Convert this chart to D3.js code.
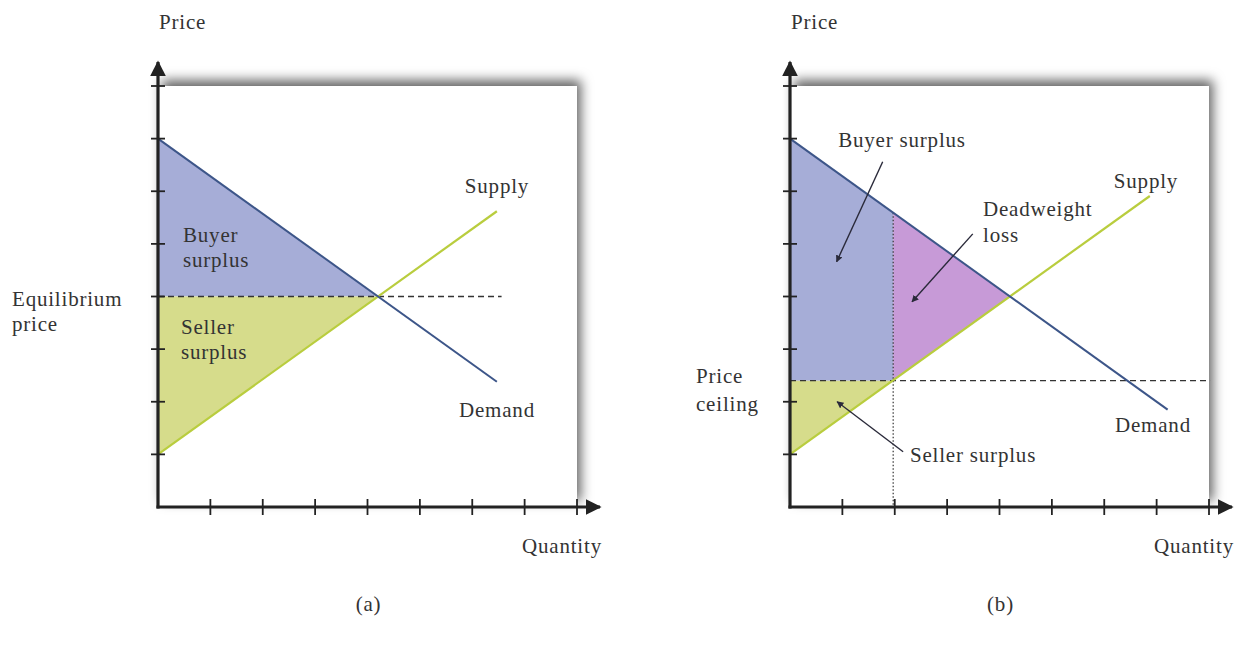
<!DOCTYPE html>
<html><head><meta charset="utf-8">
<script src="https://cdn.jsdelivr.net/npm/d3@7"></script>
<style>
body{margin:0;background:#fff;}
text{font-family:"Liberation Serif","Times New Roman",serif;fill:#333;letter-spacing:0.8px;}
</style></head>
<body><svg id="c" width="1236" height="645"></svg>
<script>
// ---- data (in economic units: quantity, price) ----
const quantityTicks = [1,2,3,4,5,6,7,8];
const priceTicks = [1,2,3,4,5,6,7,8];
const demandA = [{q:0,p:7},{q:6.47,p:2.38}];
const supplyA = [{q:0,p:1},{q:6.47,p:5.62}];
const demandB = [{q:0,p:7},{q:7.21,p:1.85}];
const supplyB = [{q:0,p:1},{q:6.87,p:5.91}];
const equilibrium = {q:4.2,p:4};
const equilibriumLineEnd = 6.56;
const ceilingPrice = 2.4;
const ceilingQty = 1.97;
const demandAtCeilingQty = 5.59;
const ceilingLineEnd = 8.02;
const buyerSurplusA = [{q:0,p:7},{q:4.2,p:4},{q:0,p:4}];
const sellerSurplusA = [{q:0,p:4},{q:4.2,p:4},{q:0,p:1}];
const buyerSurplusB = [{q:0,p:7},{q:1.97,p:5.59},{q:1.97,p:2.4},{q:0,p:2.4}];
const deadweightB = [{q:1.97,p:5.59},{q:4.2,p:4},{q:1.97,p:2.41}];
const sellerSurplusB = [{q:0,p:1},{q:1.97,p:2.4},{q:0,p:2.4}];
const arrowsB = [
  {from:{q:1.77,p:6.56},to:{q:0.89,p:4.66}},
  {from:{q:3.49,p:5.19},to:{q:2.33,p:3.90}},
  {from:{q:2.16,p:1.05},to:{q:0.90,p:2.00}}
];
const colors = {buyer:"#a6add7",seller:"#d6dc8b",dw:"#c79ad7",demand:"#3d5689",supply:"#b9cd3e",axis:"#222"};

const svg = d3.select("#c");
const defs = svg.append("defs");
defs.append("filter").attr("id","sh").attr("x","-10%").attr("y","-15%").attr("width","125%").attr("height","125%")
  .append("feDropShadow").attr("dx",4).attr("dy",-6).attr("stdDeviation",6)
  .attr("flood-color","#000").attr("flood-opacity",0.6);
defs.append("marker").attr("id","ah").attr("viewBox","0 0 10 10").attr("refX",9).attr("refY",5)
  .attr("markerWidth",5).attr("markerHeight",5).attr("orient","auto")
  .append("path").attr("d","M0,0L10,5L0,10z").attr("fill",colors.axis);
defs.append("marker").attr("id","sa").attr("viewBox","0 0 10 10").attr("refX",9).attr("refY",5)
  .attr("markerWidth",7).attr("markerHeight",7).attr("markerUnits","userSpaceOnUse")
  .attr("orient","auto")
  .append("path").attr("d","M0,0L10,5L0,10z").attr("fill","#2a2a3a");

function panel(x0, label, opts){
  const x = d3.scaleLinear().domain([0,8]).range([x0, x0+419]);
  const y = d3.scaleLinear().domain([0,8]).range([507, 86]);
  const g = svg.append("g");
  const line = d3.line().x(d=>x(d.q)).y(d=>y(d.p));
  const poly = pts => line(pts)+"Z";
  // frame
  g.append("rect").attr("x",x(0)).attr("y",y(8)).attr("width",x(8)-x(0)).attr("height",y(0)-y(8))
    .attr("fill","#fff").attr("filter","url(#sh)");
  opts.areas.forEach(a=>g.append("path").attr("d",poly(a.pts)).attr("fill",a.fill));
  opts.dashes.forEach(d=>g.append("path").attr("d",line(d.pts)).attr("fill","none")
    .attr("stroke","#333").attr("stroke-width",d.w||1.3).attr("stroke-dasharray",d.dash));
  g.append("path").attr("d",line(opts.supply)).attr("stroke",colors.supply).attr("stroke-width",2.2).attr("fill","none");
  g.append("path").attr("d",line(opts.demand)).attr("stroke",colors.demand).attr("stroke-width",2).attr("fill","none");
  // axes
  g.append("line").attr("x1",x(0)).attr("y1",y(0)+1.5).attr("x2",x(0)).attr("y2",62)
    .attr("stroke",colors.axis).attr("stroke-width",3.2).attr("marker-end","url(#ah)");
  g.append("line").attr("x1",x(0)-1.5).attr("y1",y(0)).attr("x2",x(0)+442).attr("y2",y(0))
    .attr("stroke",colors.axis).attr("stroke-width",3.2).attr("marker-end","url(#ah)");
  g.selectAll(".yt").data(priceTicks).enter().append("line")
    .attr("x1",x(0)-7).attr("x2",x(0)+7).attr("y1",d=>y(d)).attr("y2",d=>y(d))
    .attr("stroke",colors.axis).attr("stroke-width",1.8);
  g.selectAll(".xt").data(quantityTicks).enter().append("line")
    .attr("y1",y(0)-8).attr("y2",y(0)+8).attr("x1",d=>x(d)).attr("x2",d=>x(d))
    .attr("stroke",colors.axis).attr("stroke-width",1.8);
  (opts.arrows||[]).forEach(a=>g.append("line").attr("x1",x(a.from.q)).attr("y1",y(a.from.p))
    .attr("x2",x(a.to.q)).attr("y2",y(a.to.p)).attr("stroke","#2a2a3a").attr("stroke-width",1.4)
    .attr("marker-end","url(#sa)"));
  // texts
  opts.texts.forEach(t=>{
    g.append("text").attr("x",t.x).attr("y",t.y).attr("font-size",21)
      .attr("text-anchor",t.a||"start").text(t.s);
  });
  g.append("text").attr("x",x(0)+1).attr("y",29).attr("font-size",21).text("Price");
  g.append("text").attr("x",x(8)-15).attr("y",553).attr("font-size",21).attr("text-anchor","middle").text("Quantity");
  g.append("text").attr("x",x(4)+1).attr("y",611).attr("font-size",21).attr("text-anchor","middle").text(label);
}

panel(158, "(a)", {
  areas:[{pts:buyerSurplusA,fill:colors.buyer},{pts:sellerSurplusA,fill:colors.seller}],
  dashes:[{pts:[{q:0,p:equilibrium.p},{q:equilibriumLineEnd,p:equilibrium.p}],dash:"6,4"}],
  supply:supplyA, demand:demandA,
  texts:[
    {x:12,y:306,s:"Equilibrium"},{x:12,y:331,s:"price"},
    {x:183,y:242,s:"Buyer"},{x:183,y:267,s:"surplus"},
    {x:181,y:334,s:"Seller"},{x:181,y:359,s:"surplus"},
    {x:497,y:193,s:"Supply",a:"middle"},{x:497,y:417,s:"Demand",a:"middle"}
  ]
});
panel(790, "(b)", {
  areas:[{pts:buyerSurplusB,fill:colors.buyer},{pts:deadweightB,fill:colors.dw},{pts:sellerSurplusB,fill:colors.seller}],
  dashes:[{pts:[{q:0,p:ceilingPrice},{q:ceilingLineEnd,p:ceilingPrice}],dash:"6,4"},
          {pts:[{q:ceilingQty,p:demandAtCeilingQty},{q:ceilingQty,p:0}],dash:"1.5,2",w:1.2}],
  supply:supplyB, demand:demandB, arrows:arrowsB,
  texts:[
    {x:696,y:383,s:"Price"},{x:696,y:411,s:"ceiling"},
    {x:902,y:147,s:"Buyer surplus",a:"middle"},
    {x:983,y:216,s:"Deadweight"},{x:983,y:242,s:"loss"},
    {x:1146,y:188,s:"Supply",a:"middle"},{x:1153,y:432,s:"Demand",a:"middle"},
    {x:910,y:462,s:"Seller surplus"}
  ]
});
</script></body></html>
